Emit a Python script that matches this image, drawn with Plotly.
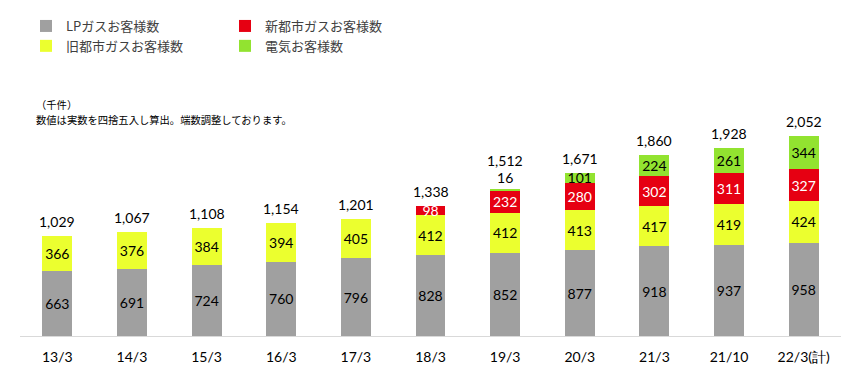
import plotly.graph_objects as go

categories = ["13/3", "14/3", "15/3", "16/3", "17/3", "18/3", "19/3", "20/3", "21/3", "21/10", "22/3(計)"]
lp_gas = [663, 691, 724, 760, 796, 828, 852, 877, 918, 937, 958]
old_city_gas = [366, 376, 384, 394, 405, 412, 412, 413, 417, 419, 424]
new_city_gas = [None, None, None, None, None, 98, 232, 280, 302, 311, 327]
electricity = [None, None, None, None, None, None, 16, 101, 224, 261, 344]
totals = [1029, 1067, 1108, 1154, 1201, 1338, 1512, 1671, 1860, 1928, 2052]

NUM_FONT = "Lato, Carlito, Calibri, sans-serif"
JP_FONT = "Noto Sans CJK JP, sans-serif"

def labels(vals):
    return ["" if v is None else f"{v}" for v in vals]

fig = go.Figure()

series = [
    ("LPガスお客様数", lp_gas, "#a0a0a0", "black", "legend", 1),
    ("旧都市ガスお客様数", old_city_gas, "#ebff2f", "black", "legend", 2),
    ("新都市ガスお客様数", new_city_gas, "#e60012", "white", "legend2", 1),
    ("電気お客様数", electricity, "#92e330", "black", "legend2", 2),
]

for name, vals, color, tcolor, leg, rank in series:
    positions = ["inside"] * len(vals)
    if name == "電気お客様数":
        positions[categories.index("19/3")] = "outside"
    fig.add_trace(go.Bar(
        x=categories, y=vals, name=name,
        marker=dict(color=color, line=dict(width=0)),
        text=labels(vals), textposition=positions,
        insidetextanchor="middle", textangle=0, constraintext="none",
        insidetextfont=dict(family=NUM_FONT, size=14, color=tcolor),
        outsidetextfont=dict(family=NUM_FONT, size=14, color="black"),
        cliponaxis=False,
        legend=leg, legendrank=rank, hoverinfo="x+y+name",
    ))

for cat, tot, el in zip(categories, totals, electricity):
    extra = 14 if (el is not None and el < 50) else 0
    fig.add_annotation(
        x=cat, y=tot, xref="x", yref="y", text=f"{tot:,}", showarrow=False,
        yanchor="bottom", yshift=4 + extra,
        font=dict(family=NUM_FONT, size=14, color="black"),
    )

notes = ["（千件）", "数値は実数を四捨五入し算出。端数調整しております。"]
for i, note in enumerate(notes):
    fig.add_annotation(
        x=0, y=1.0, xref="paper", yref="paper", xanchor="left", yanchor="middle",
        xshift=14, yshift=-4 - 15 * i, showarrow=False, align="left",
        text=note,
        font=dict(family=JP_FONT, size=10.3, color="#000000"),
    )

legend_common = dict(
    orientation="v", xanchor="left", yanchor="top",
    xref="container", yref="container",
    font=dict(family=JP_FONT, size=13, color="#404040"),
    bgcolor="rgba(0,0,0,0)", tracegroupgap=0, itemwidth=30,
    traceorder="normal",
)

fig.update_layout(
    width=862, height=374,
    margin=dict(l=20, r=21, t=100, b=38, autoexpand=False),
    paper_bgcolor="white", plot_bgcolor="white",
    barmode="stack", bargap=0.6,
    showlegend=True,
    legend=dict(x=26 / 862, y=1 - 11 / 374, **legend_common),
    legend2=dict(x=225 / 862, y=1 - 11 / 374, **legend_common),
    xaxis=dict(
        type="category", showgrid=False, showline=True, linecolor="#d9d9d9",
        linewidth=1, ticks="", tickangle=0,
        tickfont=dict(family=NUM_FONT, size=14, color="black"),
        ticklabelstandoff=8, automargin=False,
    ),
    yaxis=dict(range=[0, 2420], visible=False, showgrid=False, zeroline=False, automargin=False),
)

fig.write_html(
    "out.html",
    config={"displayModeBar": False},
    post_script="document.body.style.margin='0';document.body.style.padding='0';",
)
